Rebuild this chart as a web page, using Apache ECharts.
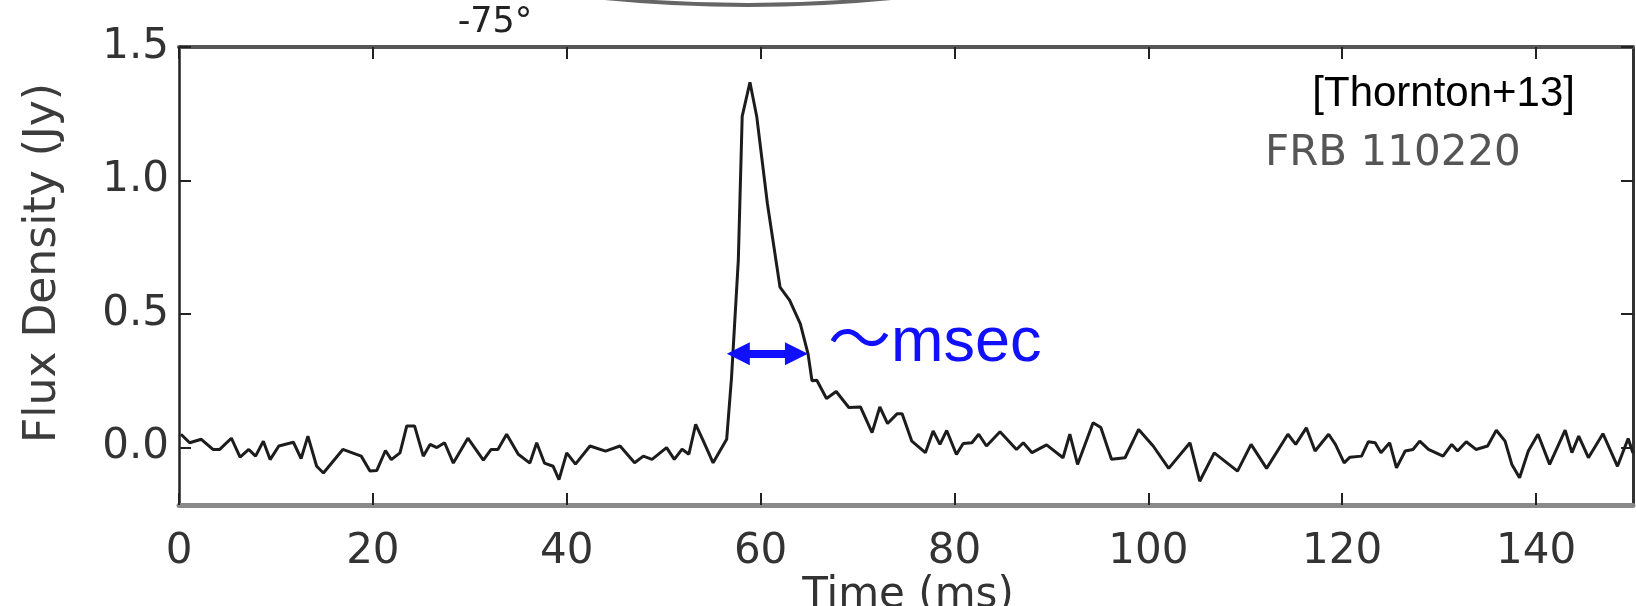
<!DOCTYPE html>
<html><head><meta charset="utf-8">
<script src="https://cdn.jsdelivr.net/npm/echarts@6/dist/echarts.min.js"></script>
<style>html,body{margin:0;padding:0;background:#fff}#c{width:1636px;height:606px}</style>
</head><body><div id="c"></div>
<script>
// ---- data ----
const timeMs = [0.2,1.1,2.3,3.5,4.2,5.4,6.3,7.2,7.9,8.7,9.4,10.3,11.8,12.6,13.3,14.2,14.9,16.9,18.8,19.7,20.4,21.3,21.9,22.8,23.5,24.3,25.2,25.9,26.6,27.4,28.3,29.8,31.4,32.2,32.9,33.8,35.0,36.2,36.9,37.7,38.6,39.2,40.0,40.9,42.4,44.0,45.5,47.0,47.9,48.8,50.3,51.1,51.9,52.6,53.3,54.1,55.1,56.5,57.0,57.7,58.1,58.9,59.6,60.7,62.0,63.0,64.1,64.9,65.3,65.8,66.8,67.8,69.1,70.3,71.5,72.3,73.1,74.1,74.6,75.6,77.0,77.8,78.5,79.2,80.2,80.9,81.8,82.5,83.3,84.7,86.4,87.1,88.0,89.5,91.2,91.9,92.7,94.3,95.1,96.2,97.6,99.0,100.5,102.1,104.3,105.3,106.8,109.2,110.6,112.2,114.4,115.2,116.3,117.2,118.6,119.3,120.2,120.8,122.0,122.7,123.4,124.0,124.9,125.6,126.5,127.3,128.0,128.9,130.4,131.3,131.9,132.8,133.8,135.0,135.9,136.8,137.5,138.3,139.2,140.2,141.4,143.0,143.7,144.4,145.4,146.9,148.4,149.5,150.0];
const fluxJy = [0.050,0.018,0.031,-0.007,-0.007,0.035,-0.036,-0.007,-0.032,0.024,-0.045,0.006,0.020,-0.041,0.043,-0.070,-0.095,-0.007,-0.032,-0.088,-0.086,-0.011,-0.045,-0.020,0.081,0.081,-0.032,0.012,0.000,0.018,-0.058,0.035,-0.047,-0.007,-0.007,0.050,-0.025,-0.058,0.018,-0.058,-0.070,-0.120,-0.020,-0.062,0.006,-0.013,0.006,-0.057,-0.032,-0.044,0.000,-0.044,-0.006,-0.025,0.087,0.024,-0.057,0.031,0.262,0.701,1.240,1.368,1.240,0.914,0.601,0.551,0.463,0.350,0.250,0.252,0.184,0.210,0.150,0.152,0.056,0.152,0.090,0.127,0.127,0.024,-0.019,0.062,0.012,0.064,-0.026,0.015,0.018,0.050,0.006,0.059,-0.007,0.018,-0.019,0.010,-0.038,0.050,-0.063,0.093,0.075,-0.044,-0.038,0.068,0.006,-0.078,0.018,-0.126,-0.020,-0.088,0.012,-0.078,0.050,0.012,0.074,-0.013,0.050,0.012,-0.057,-0.036,-0.032,0.022,0.018,-0.019,0.018,-0.076,-0.013,-0.007,0.024,-0.007,-0.032,0.012,-0.013,0.022,-0.007,0.006,0.065,0.024,-0.063,-0.113,-0.013,0.050,-0.063,0.065,-0.019,0.043,-0.038,0.052,-0.070,0.034,-0.020];
const xTicks = [0,20,40,60,80,100,120,140];
const yTicks = [0,0.5,1.0,1.5];
// arrow-head centres (ms) and level (Jy) of the width marker
const arrowTimes = [57.7, 63.7];
const arrowFlux = 0.351;
const texts = { xName: 'Time (ms)', yName: 'Flux Density (Jy)', frb: 'FRB 110220', ref: '[Thornton+13]', width: '〜msec', top: '-75°' };

const seriesData = timeMs.map((t, i) => [t, fluxJy[i]]);
const mpl = 'DejaVu Sans';
const chart = echarts.init(document.getElementById('c'), null, { renderer: 'canvas' });

const tickStyle = { show: true, inside: true, length: 12, lineStyle: { color: '#222', width: 2 } };
chart.setOption({
  animation: false,
  backgroundColor: '#fff',
  grid: { left: 179, right: 3, top: 47, bottom: 101, containLabel: false, outerBoundsMode: 'none' },
  xAxis: [{
    type: 'value', min: 0, max: 150, position: 'bottom',
    axisLine: { show: true, onZero: false, lineStyle: { color: '#8a8a8a', width: 5 } },
    axisTick: Object.assign({ customValues: xTicks }, tickStyle),
    axisLabel: { customValues: xTicks, margin: 26, color: '#333', fontFamily: mpl, fontSize: 42 },
    splitLine: { show: false }
  }, {
    type: 'value', min: 0, max: 150, position: 'top',
    axisLine: { show: true, onZero: false, lineStyle: { color: '#555', width: 4 } },
    axisTick: Object.assign({ customValues: xTicks }, tickStyle),
    axisLabel: { show: false }, splitLine: { show: false }
  }],
  yAxis: [{
    type: 'value', min: -0.215, max: 1.5, position: 'left',
    axisLine: { show: true, onZero: false, lineStyle: { color: '#222', width: 2.5 } },
    axisTick: Object.assign({ customValues: yTicks }, tickStyle),
    axisLabel: { customValues: yTicks, margin: 10, color: '#333', fontFamily: mpl, fontSize: 42,
      formatter: v => v.toFixed(1) },
    splitLine: { show: false }
  }, {
    type: 'value', min: -0.215, max: 1.5, position: 'right',
    axisLine: { show: true, onZero: false, lineStyle: { color: '#333', width: 3 } },
    axisTick: Object.assign({ customValues: yTicks }, tickStyle),
    axisLabel: { show: false }, splitLine: { show: false }
  }],
  series: [{
    type: 'line', data: seriesData, showSymbol: false, symbol: 'none',
    lineStyle: { color: '#1c1c1c', width: 3 },
    markLine: {
      silent: true, symbol: ['triangle', 'triangle'], symbolSize: [23, 23],
      lineStyle: { color: '#1010ff', width: 8, type: 'solid' },
      label: { show: false },
      data: [[{ coord: [arrowTimes[0], arrowFlux] }, { coord: [arrowTimes[1], arrowFlux] }]]
    }
  }],
  graphic: [
    { type: 'text', x: 908, y: 575,
      style: { text: texts.xName, font: '42px "DejaVu Sans"', fill: '#333', align: 'center', verticalAlign: 'top' } },
    { type: 'text', rotation: Math.PI / 2, x: 44, y: 263,
      style: { text: texts.yName, font: '44px "DejaVu Sans"', fill: '#3c3c3c', align: 'center', verticalAlign: 'middle' } },
    { type: 'text', x: 1575, y: 94,
      style: { text: texts.ref, font: '42px "Liberation Sans"', fill: '#000', align: 'right', verticalAlign: 'middle' } },
    { type: 'text', x: 1265, y: 154,
      style: { text: texts.frb, font: '42px "DejaVu Sans"', fill: '#555', align: 'left', verticalAlign: 'middle' } },
    { type: 'text', x: 828, y: 344,
      style: { text: texts.width, font: '63px "Liberation Sans", "Noto Sans CJK JP"', fill: '#1010ff', align: 'left', verticalAlign: 'middle' } },
    { type: 'text', x: 495, y: 23,
      style: { text: texts.top, font: '35px "DejaVu Sans"', fill: '#222', align: 'center', verticalAlign: 'middle' } },
    { type: 'circle', shape: { cx: 748, cy: -1437, r: 1442 },
      style: { fill: 'none', stroke: '#666', lineWidth: 4 } }
  ]
});
</script>
</body></html>
